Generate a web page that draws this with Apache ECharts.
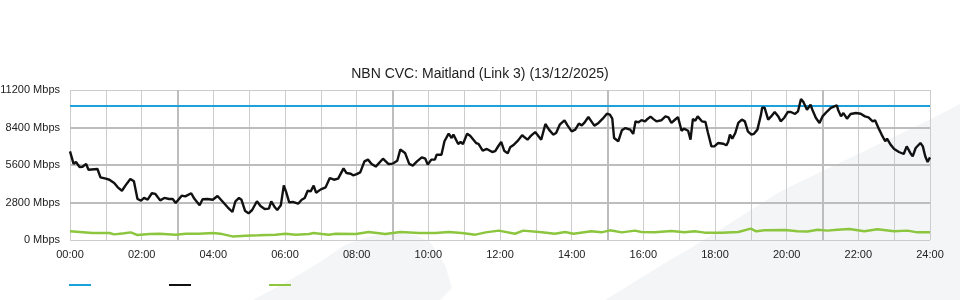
<!DOCTYPE html>
<html><head><meta charset="utf-8">
<script src="https://cdn.jsdelivr.net/npm/echarts@6/dist/echarts.min.js"></script>
<style>html,body{margin:0;padding:0;background:#fff}#c{width:960px;height:300px}</style>
</head><body><div id="c"></div>
<script>
const titleText = 'NBN CVC: Maitland (Link 3) (13/12/2025)';
const seriesNames = ['Capacity', 'Traffic In', 'Traffic Out'];
const yTicks = [0, 2800, 5600, 8400, 11200];

const capacityMinutes = [0, 1440];
const capacityMbps = [10000, 10000];

const inMinutes = [
  0, 6, 10, 16, 21, 27, 31, 46, 51, 60, 66, 74, 80, 87, 93, 101, 107, 113, 119, 124, 130, 137, 143, 151, 158, 166, 172, 177, 187, 193, 203, 208, 217, 222, 230, 239,
  247, 255, 264, 272, 277, 283, 287, 293, 299, 305, 313, 319, 326, 333, 337, 343, 347, 353, 358, 362, 367, 373, 382, 388, 393, 398, 403, 408, 412, 420, 428, 435, 442, 449, 458, 463, 470, 474, 479,
  486, 493, 499, 505, 512, 524, 533, 540, 548, 553, 561, 568, 574, 581, 589, 595, 599, 605, 611, 614, 622, 627, 634, 639, 642, 650, 654, 658, 665, 670, 680, 684, 691, 698, 707, 712,
  717, 722, 727, 733, 737, 742, 750, 757, 766, 772, 779, 789, 796, 802, 809, 814, 820, 828, 833, 840, 846, 852, 857, 861, 868, 873, 878, 885, 892, 899, 904, 908, 911, 918, 924, 930, 938, 943, 947, 952, 957,
  963, 967, 972, 978, 982, 990, 997, 1002, 1007, 1012, 1018, 1024, 1028, 1031, 1035, 1039, 1043, 1047, 1051, 1058, 1064, 1068, 1074, 1079, 1085, 1094, 1099, 1102, 1105, 1109, 1114, 1119, 1125, 1130, 1135, 1141, 1145, 1151, 1157, 1159, 1163, 1169, 1174, 1180, 1186, 1190,
  1196, 1202, 1207, 1214, 1219, 1224, 1228, 1234, 1240, 1243, 1249, 1255, 1260, 1268, 1274, 1280, 1284, 1286, 1291, 1295, 1301, 1307, 1316, 1324, 1331, 1337, 1344, 1348, 1355, 1359, 1365, 1368, 1374, 1380, 1388, 1396, 1401, 1407, 1411, 1416, 1424, 1428, 1432, 1436, 1440
];
const inMbps = [
  6620, 5680, 5820, 5450, 5470, 5680, 5250, 5300, 4680, 4580, 4500, 4260, 3930, 3680, 4080, 4560, 4380, 3060, 2940, 3140, 3010, 3490, 3440, 2960, 3140, 3060, 3060, 2760, 3310, 3260, 3490, 3090, 2590, 3040, 3060, 3010,
  3290, 2890, 2440, 2090, 2890, 3140, 3010, 2190, 1990, 2240, 2890, 2540, 2320, 2340, 2890, 2440, 2240, 2590, 4080, 3580, 2810, 2840, 2710, 3010, 3140, 3680, 3630, 4060, 3530, 3780, 3930, 4630, 4500, 4580, 5350, 5000, 4950, 4830, 4900,
  5050, 5870, 6000, 5680, 5480, 6070, 5680, 5700, 5920, 6750, 6500, 5680, 5550, 5870, 6170, 6070, 5630, 6000, 6000, 6370, 6370, 7370, 7940, 7620, 7870, 7170, 7320, 7170, 7940, 7790, 7240, 7170, 6670, 6800, 6570, 6640,
  7000, 7320, 6670, 6470, 6920, 7070, 7420, 7820, 7490, 7790, 8060, 7490, 8660, 8240, 7870, 7990, 8610, 8940, 8560, 8110, 8240, 8690, 8560, 8740, 9180, 8860, 8540, 8740, 9060, 9430, 9360, 9060, 7620, 7370, 8190, 8360, 8240, 7920, 8860, 8790, 8950,
  8860, 9040, 9210, 8990, 8860, 8940, 9230, 9160, 8740, 8940, 9180, 8160, 8310, 8410, 8160, 7490, 9040, 8910, 9230, 8860, 8810, 8040, 6990, 6990, 7240, 7190, 7070, 7320, 7870, 7570, 7990, 8740, 8990, 8860, 8110, 7870, 7920, 8240, 9360, 9880, 9880, 8990, 9230, 9560, 9230, 8860,
  9130, 9560, 9560, 9410, 9610, 10530, 10300, 9730, 10100, 9730, 9110, 8740, 9230, 9610, 9860, 9980, 10060, 9730, 9230, 9480, 9060, 9410, 9480, 9430, 9230, 9160, 8860, 8940, 8240, 7870, 7370, 7570, 7120, 6800, 6570, 6420, 6990, 6500, 6250, 6870, 7240, 6990, 6250, 5820, 6170
];

const outMinutes = [
  0, 16, 38, 66, 74, 91, 102, 113, 133, 150, 177, 194, 216, 240,
  255, 272, 294, 316, 344, 361, 378, 400, 408, 422, 433, 445, 479,
  500, 528, 553, 584, 612, 634, 656, 679, 696, 718,
  745, 759, 790, 812, 829, 843, 873, 890, 904, 924, 946, 957,
  979, 1007, 1029, 1046, 1063, 1091, 1119, 1140, 1149, 1163, 1197,
  1218, 1235, 1252, 1268, 1285, 1305, 1330, 1352, 1380, 1402, 1419, 1440
];
const outMbps = [
  650, 600, 520, 520, 420, 500, 570, 370, 450, 470, 400, 470, 470, 520,
  440, 270, 320, 350, 400, 470, 400, 450, 520, 450, 400, 470, 450,
  600, 450, 600, 520, 520, 600, 520, 400, 570, 700,
  470, 700, 570, 470, 600, 470, 650, 570, 720, 570, 700, 600,
  570, 670, 570, 650, 550, 550, 600, 850, 650, 720, 750,
  650, 630, 770, 700, 770, 820, 650, 800, 650, 700, 570, 570
];

const zip = (xs, ys) => xs.map((x, i) => [x, ys[i]]);
const pad = n => (n < 10 ? '0' : '') + n;
const FONT = '"Liberation Sans", Arial, Helvetica, sans-serif';

const chart = echarts.init(document.getElementById('c'), null, { renderer: 'canvas' });
const legendItem = (name, left) => ({
  data: [name], left: left, top: 284, itemWidth: 22, itemHeight: 2, icon: 'rect',
  formatter: () => '', selectedMode: false, padding: 0, textStyle: { fontSize: 1 }
});

chart.setOption({
  animation: false,
  backgroundColor: '#fff',
  title: {
    text: titleText, left: 'center', top: 62,
    textStyle: { fontSize: 14, fontWeight: 'normal', color: '#222', fontFamily: FONT }
  },
  legend: [legendItem(seriesNames[0], 69), legendItem(seriesNames[1], 169), legendItem(seriesNames[2], 269)],
  graphic: [
    { type: 'polygon', z: -10, silent: true,
      shape: { points: [[253,300],[290,280],[320,262],[345,245],[370,236],[395,233],[415,235],[430,242],[445,265],[452,288],[440,300]] },
      style: { fill: '#f4f5f7' } },
    { type: 'polygon', z: -10, silent: true,
      shape: { points: [[605,300],[670,260],[691,248],[781,191],[929,120],[960,104],[960,300]] },
      style: { fill: '#f4f5f7' } }
  ],
  grid: { left: 70, right: 30, top: 90, bottom: 60, containLabel: false, outerBoundsMode: 'none' },
  xAxis: {
    type: 'value', min: 0, max: 1440, interval: 60,
    axisLine: { show: false }, axisTick: { show: false },
    axisLabel: { margin: 9, fontSize: 11, color: '#222', fontFamily: FONT,
      formatter: v => (v % 120 === 0 ? pad(v / 60) + ':00' : '') },
    splitLine: { show: true, lineStyle: { color: '#cccccc', width: 1 } }
  },
  yAxis: {
    type: 'value', min: yTicks[0], max: yTicks[yTicks.length - 1], interval: yTicks[1] - yTicks[0],
    axisLine: { show: false }, axisTick: { show: false },
    axisLabel: { margin: 10, fontSize: 11, color: '#222', fontFamily: FONT, formatter: v => v + ' Mbps' },
    splitLine: { show: true, lineStyle: { color: '#cccccc', width: 1 } }
  },
  series: [
    { name: seriesNames[0], type: 'line', data: zip(capacityMinutes, capacityMbps), showSymbol: false, symbol: 'none',
      z: 2, lineStyle: { color: '#1ba1dc', width: 2 }, itemStyle: { color: '#1ba1dc' },
      markLine: { silent: true, z: 1, symbol: 'none', label: { show: false }, animation: false,
        lineStyle: { color: '#bdbdbd', width: 2, type: 'solid' },
        data: [{ xAxis: 180 }, { xAxis: 540 }, { xAxis: 900 }, { xAxis: 1260 },
               { yAxis: 2800 }, { yAxis: 5600 }, { yAxis: 8400 }] } },
    { name: seriesNames[2], type: 'line', data: zip(outMinutes, outMbps), showSymbol: false, symbol: 'none',
      z: 3, lineStyle: { color: '#8cc63e', width: 2.5 }, itemStyle: { color: '#8cc63e' } },
    { name: seriesNames[1], type: 'line', data: zip(inMinutes, inMbps), showSymbol: false, symbol: 'none',
      z: 4, lineStyle: { color: '#111111', width: 2.4 }, itemStyle: { color: '#111111' } }
  ]
});
</script>
</body></html>
